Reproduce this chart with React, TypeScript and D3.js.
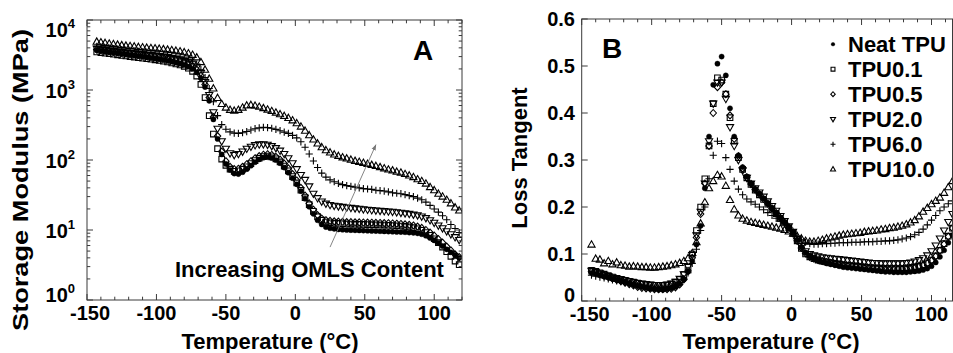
import React from 'react';
import * as d3 from 'd3';

const W = 953;
const H = 353;
const FONT = '"Liberation Sans", Arial, Helvetica, sans-serif';

// Measurement temperatures (°C)
const tempsA = d3.range(-143, 119, 3); // storage modulus sweep
const tempsB = d3.range(-143, 116, 3); // loss tangent sweep

const seriesNames = ['Neat TPU', 'TPU0.1', 'TPU0.5', 'TPU2.0', 'TPU6.0', 'TPU10.0'];
const seriesSymbols = ['circle', 'square', 'diamond', 'triDown', 'plus', 'triUp'];

// Storage modulus (MPa)
const modNeat = [
  3700, 3620, 3540, 3470, 3400, 3340, 3280, 3220, 3160, 3100,
  3040, 2980, 2920, 2860, 2800, 2740, 2680, 2610, 2540, 2460,
  2380, 2280, 2160, 2000, 1780, 1470, 1100, 700, 380, 200,
  120, 88, 72, 64, 63, 67, 74, 83, 93, 102,
  108, 110, 107, 100, 90, 78, 66, 55, 45, 36,
  28, 21.5, 17, 13.8, 12, 11, 10.6, 10.4, 10.2, 10.1,
  10, 9.95, 9.9, 9.85, 9.8, 9.75, 9.7, 9.65, 9.6, 9.55,
  9.5, 9.45, 9.4, 9.35, 9.3, 9.2, 9.1, 8.95, 8.7, 8.3,
  7.7, 7.1, 6.5, 5.9, 5.3, 4.8, 4.4, 4.0,
];
const mod01 = [
  3500, 3430, 3360, 3300, 3240, 3180, 3120, 3060, 3000, 2950,
  2900, 2850, 2800, 2750, 2700, 2640, 2580, 2510, 2440, 2360,
  2280, 2180, 2050, 1850, 1580, 1200, 780, 430, 235, 145,
  103, 84, 74, 69, 70, 74, 80, 89, 98, 106,
  112, 114, 111, 104, 94, 82, 70, 58, 47, 37,
  29, 23, 18.5, 15.5, 13.8, 13, 12.7, 12.5, 12.4, 12.3,
  12.2, 12.15, 12.1, 12.05, 12, 11.95, 11.9, 11.85, 11.8, 11.75,
  11.7, 11.6, 11.5, 11.4, 11.25, 11.05, 10.8, 10.4, 9.9, 9.2,
  8.4, 7.5, 6.6, 5.7, 4.9, 4.2, 3.6, 3.2,
];
const mod05 = [
  3800, 3730, 3660, 3590, 3530, 3470, 3410, 3350, 3300, 3250,
  3200, 3150, 3100, 3050, 3000, 2950, 2890, 2830, 2760, 2690,
  2610, 2510, 2390, 2200, 1950, 1600, 1200, 780, 410, 220,
  132, 96, 80, 74, 75, 80, 87, 96, 106, 114,
  119, 121, 118, 111, 101, 89, 76, 63, 51, 40,
  31, 24, 19.5, 16.3, 14.6, 13.8, 13.5, 13.3, 13.2, 13.1,
  13, 12.95, 12.9, 12.85, 12.8, 12.75, 12.7, 12.65, 12.6, 12.55,
  12.5, 12.4, 12.3, 12.2, 12.05, 11.85, 11.6, 11.2, 10.7, 10,
  9.2, 8.3, 7.4, 6.6, 5.8, 5.1, 4.5, 4.1,
];
const mod20 = [
  3900, 3820, 3740, 3670, 3600, 3540, 3480, 3430, 3380, 3330,
  3280, 3230, 3180, 3130, 3080, 3030, 2970, 2910, 2850, 2780,
  2700, 2600, 2480, 2330, 2100, 1750, 1300, 850, 480, 280,
  185, 145, 125, 118, 122, 132, 145, 155, 163, 167,
  168, 165, 158, 148, 136, 122, 106, 90, 74, 61,
  52, 42, 33, 28.5, 25.5, 23.8, 22.8, 22.2, 21.8, 21.4,
  21, 20.7, 20.4, 20.1, 19.8, 19.5, 19.2, 19, 18.8, 18.6,
  18.4, 18.2, 17.9, 17.6, 17.3, 17, 16.6, 16.2, 15.6, 14.8,
  13.8, 12.7, 11.6, 10.6, 9.6, 8.7, 7.9, 7.2,
];
const mod60 = [
  4200, 4120, 4040, 3970, 3900, 3840, 3780, 3720, 3670, 3620,
  3570, 3520, 3470, 3420, 3370, 3320, 3260, 3200, 3130, 3060,
  2980, 2880, 2760, 2600, 2350, 1950, 1500, 1050, 680, 430,
  320, 275, 252, 242, 240, 245, 255, 268, 280, 288,
  292, 290, 284, 274, 262, 250, 240, 225, 207, 182,
  152, 122, 97, 78, 65, 57, 52, 49, 46.5, 44.5,
  43, 42, 41, 40, 39, 38.5, 38, 37, 36.5, 36,
  35, 34, 33.5, 33, 32, 31, 30, 28.5, 27, 25,
  22.5, 20, 18, 16, 14, 12, 10.5, 9.2,
];
const mod100 = [
  4900, 4800, 4700, 4600, 4520, 4440, 4370, 4300, 4240, 4180,
  4120, 4070, 4020, 3970, 3930, 3880, 3830, 3770, 3710, 3640,
  3560, 3460, 3340, 3180, 2920, 2500, 1950, 1450, 1050, 770,
  630, 560, 520, 505, 520, 560, 600, 610, 595, 575,
  550, 525, 500, 475, 450, 425, 398, 368, 335, 300,
  262, 226, 196, 172, 152, 138, 128, 120, 114, 109,
  105, 101, 97, 94, 91, 88, 85, 82, 79, 76,
  73, 71, 68, 66, 63, 60, 57, 53, 50, 46,
  41, 37, 33, 30, 27, 24, 21, 19,
];

// Loss tangent (tan δ)
const tanNeat = [
  0.060, 0.058, 0.055, 0.052, 0.050, 0.047, 0.045, 0.042, 0.040, 0.037,
  0.035, 0.032, 0.030, 0.028, 0.026, 0.025, 0.024, 0.024, 0.025, 0.027,
  0.030, 0.036, 0.046, 0.062, 0.085, 0.120, 0.160, 0.240, 0.350, 0.460,
  0.505, 0.520, 0.480, 0.410, 0.350, 0.310, 0.285, 0.265, 0.250, 0.238,
  0.228, 0.218, 0.207, 0.197, 0.187, 0.177, 0.167, 0.157, 0.145, 0.130,
  0.115, 0.103, 0.095, 0.090, 0.086, 0.083, 0.080, 0.078, 0.076, 0.074,
  0.072, 0.071, 0.070, 0.069, 0.068, 0.067, 0.066, 0.065, 0.064, 0.063,
  0.062, 0.062, 0.061, 0.061, 0.061, 0.061, 0.062, 0.063, 0.064, 0.066,
  0.069, 0.074, 0.082, 0.094, 0.108, 0.124, 0.140,
];
const tan01 = [
  0.065, 0.063, 0.060, 0.057, 0.054, 0.051, 0.048, 0.046, 0.044, 0.042,
  0.040, 0.038, 0.036, 0.035, 0.034, 0.033, 0.033, 0.033, 0.034, 0.036,
  0.040, 0.046, 0.056, 0.072, 0.100, 0.150, 0.200, 0.260, 0.330, 0.420,
  0.475, 0.470, 0.440, 0.390, 0.340, 0.305, 0.280, 0.262, 0.248, 0.236,
  0.226, 0.216, 0.206, 0.196, 0.186, 0.176, 0.166, 0.156, 0.144, 0.128,
  0.112, 0.100, 0.094, 0.090, 0.087, 0.085, 0.083, 0.081, 0.080, 0.078,
  0.077, 0.076, 0.075, 0.074, 0.073, 0.072, 0.071, 0.070, 0.070, 0.069,
  0.069, 0.069, 0.069, 0.069, 0.069, 0.070, 0.071, 0.072, 0.074, 0.077,
  0.081, 0.087, 0.096, 0.108, 0.122, 0.138, 0.155,
];
const tan05 = [
  0.063, 0.060, 0.057, 0.054, 0.051, 0.048, 0.045, 0.042, 0.039, 0.036,
  0.033, 0.030, 0.028, 0.027, 0.026, 0.025, 0.025, 0.025, 0.025, 0.026,
  0.029, 0.035, 0.046, 0.064, 0.092, 0.135, 0.185, 0.250, 0.330, 0.400,
  0.455, 0.465, 0.440, 0.395, 0.345, 0.308, 0.282, 0.263, 0.249, 0.237,
  0.227, 0.217, 0.207, 0.197, 0.187, 0.177, 0.167, 0.156, 0.144, 0.128,
  0.113, 0.101, 0.094, 0.090, 0.087, 0.085, 0.083, 0.081, 0.079, 0.078,
  0.076, 0.075, 0.074, 0.073, 0.072, 0.071, 0.070, 0.070, 0.069, 0.069,
  0.068, 0.068, 0.068, 0.068, 0.068, 0.069, 0.070, 0.071, 0.073, 0.076,
  0.080, 0.086, 0.095, 0.107, 0.121, 0.137, 0.155,
];
const tan20 = [
  0.064, 0.062, 0.059, 0.056, 0.053, 0.050, 0.048, 0.046, 0.044, 0.042,
  0.040, 0.038, 0.037, 0.036, 0.035, 0.034, 0.034, 0.034, 0.035, 0.037,
  0.041, 0.047, 0.057, 0.073, 0.098, 0.140, 0.190, 0.250, 0.340, 0.420,
  0.465, 0.465, 0.430, 0.370, 0.330, 0.300, 0.278, 0.262, 0.250, 0.240,
  0.231, 0.222, 0.212, 0.202, 0.192, 0.181, 0.170, 0.159, 0.147, 0.132,
  0.117, 0.106, 0.100, 0.097, 0.095, 0.093, 0.092, 0.091, 0.090, 0.089,
  0.088, 0.087, 0.086, 0.085, 0.084, 0.083, 0.082, 0.081, 0.081, 0.080,
  0.080, 0.080, 0.080, 0.080, 0.080, 0.081, 0.082, 0.084, 0.087, 0.091,
  0.097, 0.106, 0.118, 0.133, 0.150, 0.168, 0.185,
];
const tan60 = [
  0.055, 0.053, 0.051, 0.049, 0.047, 0.045, 0.043, 0.041, 0.039, 0.037,
  0.035, 0.033, 0.031, 0.030, 0.029, 0.028, 0.028, 0.028, 0.029, 0.031,
  0.034, 0.039, 0.047, 0.060, 0.080, 0.110, 0.150, 0.200, 0.260, 0.310,
  0.340, 0.335, 0.305, 0.280, 0.255, 0.238, 0.226, 0.217, 0.211, 0.206,
  0.200, 0.194, 0.188, 0.182, 0.176, 0.170, 0.164, 0.157, 0.148, 0.138,
  0.130, 0.125, 0.122, 0.121, 0.121, 0.122, 0.122, 0.123, 0.123, 0.124,
  0.124, 0.124, 0.125, 0.125, 0.125, 0.126, 0.126, 0.126, 0.127, 0.127,
  0.128, 0.128, 0.129, 0.130, 0.132, 0.134, 0.137, 0.141, 0.146, 0.153,
  0.162, 0.172, 0.182, 0.192, 0.200, 0.207, 0.213,
];
const tan100 = [
  0.120, 0.090, 0.088, 0.080, 0.085, 0.078, 0.082, 0.076, 0.075, 0.073,
  0.074, 0.073, 0.072, 0.072, 0.071, 0.071, 0.072, 0.073, 0.074, 0.076,
  0.078, 0.081, 0.085, 0.091, 0.102, 0.125, 0.165, 0.210, 0.240, 0.255,
  0.268, 0.265, 0.245, 0.215, 0.195, 0.182, 0.175, 0.171, 0.168, 0.166,
  0.164, 0.162, 0.160, 0.158, 0.156, 0.154, 0.151, 0.148, 0.143, 0.138,
  0.133, 0.128, 0.126, 0.126, 0.128, 0.130, 0.133, 0.135, 0.137, 0.139,
  0.141, 0.142, 0.143, 0.144, 0.145, 0.147, 0.148, 0.149, 0.150, 0.152,
  0.153, 0.155, 0.156, 0.158, 0.160, 0.163, 0.167, 0.172, 0.180, 0.190,
  0.198, 0.206, 0.213, 0.220, 0.230, 0.242, 0.255,
];

const modulusSeries = [modNeat, mod01, mod05, mod20, mod60, mod100];
const tanSeries = [tanNeat, tan01, tan05, tan20, tan60, tan100];

const xTicksMajor = [-150, -100, -50, 0, 50, 100];
const tanTicks = [0, 0.1, 0.2, 0.3, 0.4, 0.5, 0.6];
const decadeExps = [0, 1, 2, 3, 4];

// Panel frames
const A = { left: 87, right: 462, top: 20, bottom: 300 };
const B = { left: 581.7, right: 952.5, top: 19, bottom: 301 };

const xA = d3.scaleLinear().domain([-150, 120]).range([A.left, A.right]);
const yA = d3.scaleLog().domain([1, 1e4]).range([A.bottom, A.top]);
const xB = d3.scaleLinear().domain([-150, 115]).range([B.left, B.right]);
const yB = d3.scaleLinear().domain([0, 0.6]).range([B.bottom, B.top]);

function symbolPath(kind: string, k: number): string {
  switch (kind) {
    case 'circle': {
      const r = 2.6 * k;
      return `M${r},0A${r},${r} 0 1,1 ${-r},0A${r},${r} 0 1,1 ${r},0Z`;
    }
    case 'square': {
      const s = 2.8 * k;
      return `M${-s},${-s}H${s}V${s}H${-s}Z`;
    }
    case 'diamond': {
      const a = 3.2 * k, b = 3.5 * k;
      return `M0,${-b}L${a},0L0,${b}L${-a},0Z`;
    }
    case 'triUp': {
      const a = 3.6 * k, t = 3.8 * k, u = 2.5 * k;
      return `M0,${-t}L${a},${u}L${-a},${u}Z`;
    }
    case 'triDown': {
      const a = 3.6 * k, t = 3.8 * k, u = 2.5 * k;
      return `M0,${t}L${a},${-u}L${-a},${-u}Z`;
    }
    case 'plus': {
      const a = 3.6 * k;
      return `M${-a},0H${a}M0,${-a}V${a}`;
    }
    default:
      return '';
  }
}

function Marker({ kind, x, y, k = 1 }: { kind: string; x: number; y: number; k?: number }) {
  const filled = kind === 'circle';
  return (
    <path
      d={symbolPath(kind, k)}
      transform={`translate(${x.toFixed(2)},${y.toFixed(2)})`}
      fill={filled ? '#000' : 'none'}
      stroke="#000"
      strokeWidth={filled ? 0.4 : 1.1}
    />
  );
}

const frameColor = '#3a3a3a';

function Frame({ f }: { f: { left: number; right: number; top: number; bottom: number } }) {
  return (
    <rect
      x={f.left}
      y={f.top}
      width={f.right - f.left}
      height={f.bottom - f.top}
      fill="none"
      stroke={frameColor}
      strokeWidth={1}
    />
  );
}

function XTicks({ x, f, max }: { x: d3.ScaleLinear<number, number>; f: any; max: number }) {
  const ticks = d3.range(-150, max + 0.1, 10);
  return (
    <g stroke={frameColor} strokeWidth={1}>
      {ticks.map((t) => {
        const len = t % 50 === 0 ? 6 : 3.3;
        const px = x(t);
        return (
          <g key={t}>
            <line x1={px} x2={px} y1={f.bottom} y2={f.bottom - len} />
            <line x1={px} x2={px} y1={f.top} y2={f.top + len} />
          </g>
        );
      })}
    </g>
  );
}

// first label nudged right so it clears the y-axis labels
function XLabels({ x, f, firstShift }: { x: d3.ScaleLinear<number, number>; f: any; firstShift: number }) {
  return (
    <g fontFamily={FONT} fontWeight="bold" fontSize={20} textAnchor="middle" fill="#000">
      {xTicksMajor.map((t, i) => (
        <text key={t} x={x(t) + (i === 0 ? firstShift : 0)} y={f.bottom + 20}>
          {t < 0 ? `-${Math.abs(t)}` : `${t}`}
        </text>
      ))}
    </g>
  );
}

export default function App() {
  const logMinor: number[] = [];
  for (let e = 0; e < 4; e++) {
    for (let m = 2; m <= 9; m++) logMinor.push(m * Math.pow(10, e));
  }

  // annotation arrow in data coordinates of the modulus panel
  const arrowFrom = { t: 25, v: 5.7 };
  const arrowTo = { t: 58, v: 165 };

  // end labels are pulled inside the frame
  const decadeLabelY = (e: number) => {
    const py = yA(Math.pow(10, e));
    if (e === 4) return py + 17;
    if (e === 0) return py + 2;
    return py + 8;
  };

  return (
    <div style={{ position: 'fixed', left: 0, top: 0, width: W, height: H, background: '#fff' }}>
      <svg width={W} height={H} viewBox={`0 0 ${W} ${H}`} style={{ display: 'block' }}>
        <defs>
          <clipPath id="clipA">
            <rect x={A.left} y={A.top} width={A.right - A.left} height={A.bottom - A.top} />
          </clipPath>
          <clipPath id="clipB">
            <rect x={B.left} y={B.top} width={B.right - B.left} height={B.bottom - B.top} />
          </clipPath>
          <marker id="arrowHead" viewBox="0 0 10 10" refX="9" refY="5" markerWidth="7" markerHeight="7" orient="auto">
            <path d="M0,1.5L10,5L0,8.5Z" fill="#777" />
          </marker>
        </defs>
        <rect width={W} height={H} fill="#fff" />

        {/* ---------- Panel A: storage modulus ---------- */}
        <g clipPath="url(#clipA)">
          {modulusSeries
            .map((vals, si) => ({ vals, si }))
            .reverse()
            .map(({ vals, si }) => (
              <g key={si}>
                {vals.map((v, i) => (
                  <Marker key={i} kind={seriesSymbols[si]} x={xA(tempsA[i])} y={yA(v)} />
                ))}
              </g>
            ))}
        </g>
        <Frame f={A} />
        <XTicks x={xA} f={A} max={120} />
        <g stroke={frameColor} strokeWidth={1}>
          {decadeExps.map((e) => {
            const py = yA(Math.pow(10, e));
            return (
              <g key={e}>
                <line x1={A.left} x2={A.left + 6} y1={py} y2={py} />
                <line x1={A.right} x2={A.right - 6} y1={py} y2={py} />
              </g>
            );
          })}
          {logMinor.map((v) => {
            const py = yA(v);
            return (
              <g key={v}>
                <line x1={A.left} x2={A.left + 3.3} y1={py} y2={py} />
                <line x1={A.right} x2={A.right - 3.3} y1={py} y2={py} />
              </g>
            );
          })}
        </g>
        <XLabels x={xA} f={A} firstShift={3} />
        <g fontFamily={FONT} fontWeight="bold" fill="#000" textAnchor="end">
          {decadeExps.map((e) => (
            <text key={e} x={75} y={decadeLabelY(e)} fontSize={20}>
              10
              <tspan fontSize={13} dy={-9}>
                {e}
              </tspan>
            </text>
          ))}
        </g>
        <text
          transform="translate(28,180) rotate(-90)"
          textAnchor="middle"
          fontFamily={FONT}
          fontWeight="bold"
          fontSize={22}
          textLength={302}
          lengthAdjust="spacingAndGlyphs"
        >
          Storage Modulus (MPa)
        </text>
        <text x={270} y={349} textAnchor="middle" fontFamily={FONT} fontWeight="bold" fontSize={22}>
          Temperature (°C)
        </text>
        <text x={413} y={60} fontFamily={FONT} fontWeight="bold" fontSize={28}>
          A
        </text>
        <line
          x1={xA(arrowFrom.t)}
          y1={yA(arrowFrom.v)}
          x2={xA(arrowTo.t)}
          y2={yA(arrowTo.v)}
          stroke="#777"
          strokeWidth={0.9}
          markerEnd="url(#arrowHead)"
        />
        <text x={175} y={277} fontFamily={FONT} fontWeight="bold" fontSize={22}>
          Increasing OMLS Content
        </text>

        {/* ---------- Panel B: loss tangent ---------- */}
        <g clipPath="url(#clipB)">
          {tanSeries
            .map((vals, si) => ({ vals, si }))
            .reverse()
            .map(({ vals, si }) => (
              <g key={si}>
                {vals.map((v, i) => (
                  <Marker key={i} kind={seriesSymbols[si]} x={xB(tempsB[i])} y={yB(v)} />
                ))}
              </g>
            ))}
        </g>
        <Frame f={B} />
        <XTicks x={xB} f={B} max={110} />
        <g stroke={frameColor} strokeWidth={1}>
          {tanTicks.map((t) => (
            <line key={t} x1={B.left} x2={B.left + 6} y1={yB(t)} y2={yB(t)} />
          ))}
        </g>
        <XLabels x={xB} f={B} firstShift={8} />
        <g fontFamily={FONT} fontWeight="bold" fontSize={20} fill="#000" textAnchor="end">
          {tanTicks.map((t) => (
            <text key={t} x={575} y={t === 0 ? yB(t) + 0.5 : yB(t) + 7}>
              {t === 0 ? '0' : t.toFixed(1)}
            </text>
          ))}
        </g>
        <text
          transform="translate(527,158) rotate(-90)"
          textAnchor="middle"
          fontFamily={FONT}
          fontWeight="bold"
          fontSize={22}
        >
          Loss Tangent
        </text>
        <text x={771} y={349} textAnchor="middle" fontFamily={FONT} fontWeight="bold" fontSize={22}>
          Temperature (°C)
        </text>
        <text x={602} y={58} fontFamily={FONT} fontWeight="bold" fontSize={28}>
          B
        </text>

        {/* legend */}
        <g fontFamily={FONT} fontWeight="bold" fontSize={22} fill="#000">
          {seriesNames.map((name, i) => {
            const base = 51.7 + i * 25;
            return (
              <g key={name}>
                <Marker kind={seriesSymbols[i]} x={833} y={base - 7.5} k={0.7} />
                <text x={848} y={base}>
                  {name}
                </text>
              </g>
            );
          })}
        </g>
      </svg>
    </div>
  );
}
